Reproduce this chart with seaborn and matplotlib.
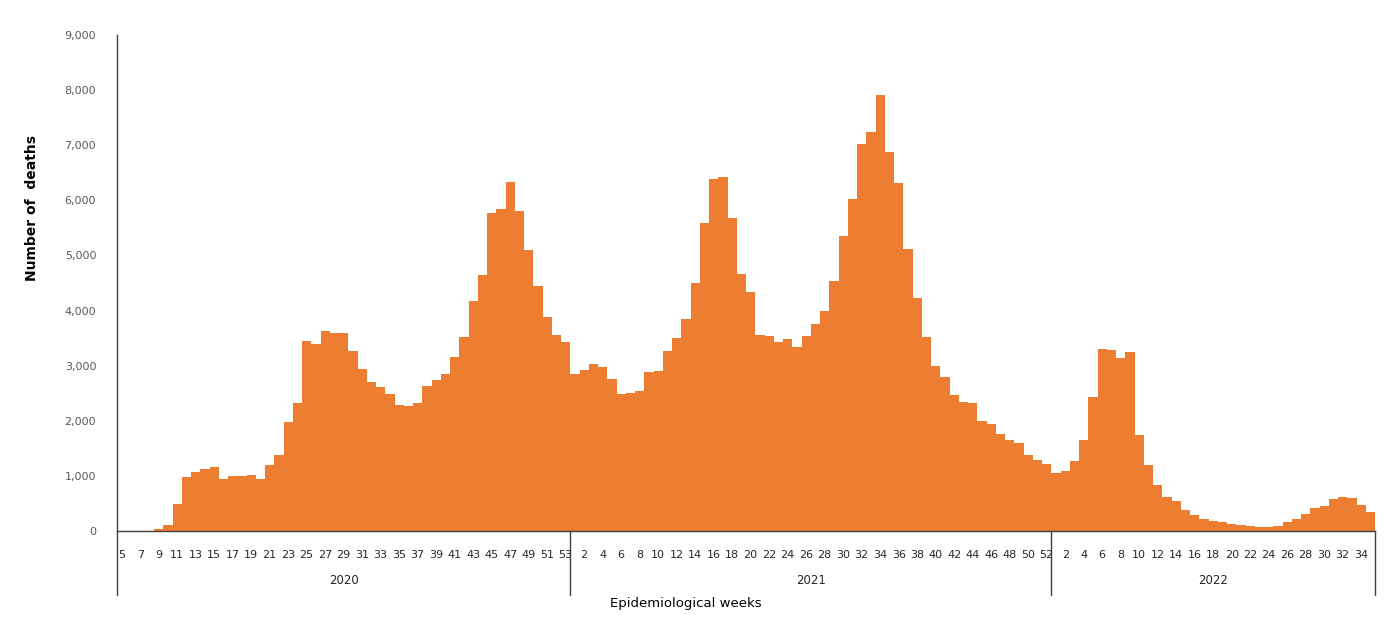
import numpy as np
import pandas as pd
import seaborn as sns
import matplotlib.pyplot as plt

# weekly deaths
weeks_2020 = list(range(5, 54))
deaths_2020 = [0, 0, 3, 8, 30, 100, 490, 980, 1070, 1125, 1167, 950, 998, 995, 1016, 938,
               1192, 1373, 1978, 2329, 3454, 3400, 3630, 3594, 3590, 3267, 2934, 2704, 2620,
               2486, 2281, 2263, 2317, 2632, 2735, 2855, 3158, 3521, 4180, 4652, 5771, 5838,
               6328, 5813, 5100, 4452, 3878, 3551, 3425]
weeks_2021 = list(range(1, 53))
deaths_2021 = [2855, 2916, 3037, 2982, 2752, 2486, 2498, 2535, 2886, 2898, 3267, 3497, 3842,
               4507, 5584, 6382, 6425, 5686, 4658, 4343, 3551, 3533, 3430, 3479, 3345, 3545,
               3751, 3993, 4537, 5360, 6025, 7024, 7241, 7913, 6872, 6322, 5124, 4223, 3527,
               3000, 2801, 2463, 2341, 2317, 1990, 1936, 1755, 1646, 1592, 1374, 1289, 1216]
weeks_2022 = list(range(1, 36))
deaths_2022 = [1059, 1095, 1270, 1652, 2432, 3297, 3279, 3140, 3243, 1737, 1198, 835, 623,
               550, 375, 285, 212, 176, 170, 133, 109, 91, 73, 80, 91, 157, 218, 314, 423,
               460, 575, 617, 599, 478, 350]
years = ['2020', '2021', '2022']

df = pd.DataFrame({
    'year': ['2020'] * len(weeks_2020) + ['2021'] * len(weeks_2021) + ['2022'] * len(weeks_2022),
    'week': weeks_2020 + weeks_2021 + weeks_2022,
    'deaths': deaths_2020 + deaths_2021 + deaths_2022,
})
df['pos'] = np.arange(len(df))

sns.set_style('white')
plt.rcParams['font.family'] = ['Liberation Sans Narrow', 'DejaVu Sans']

fig = plt.figure(figsize=(14, 6.29), dpi=100)
ax = fig.add_axes([0.0836, 0.1558, 0.8986, 0.7886])

sns.barplot(data=df, x='pos', y='deaths', color='#ED7D31', width=1.0,
            linewidth=0, saturation=1, ax=ax)

ax.set_ylim(0, 9000)
ax.set_xlim(-0.5, len(df) - 0.5)
ax.set_yticks(np.arange(0, 9001, 1000))
ax.set_yticklabels([f'{v:,}' for v in range(0, 9001, 1000)], fontsize=8, color='#595959')
ax.tick_params(axis='y', length=0, pad=15)

# week labels: odd weeks in 2020, even weeks in 2021/2022
show = ((df['year'] == '2020') & (df['week'] % 2 == 1)) | ((df['year'] != '2020') & (df['week'] % 2 == 0))
ax.set_xticks(df['pos'][show])
ax.set_xticklabels(df['week'][show], fontsize=8, color='#262626')
ax.tick_params(axis='x', length=0, pad=14)
ax.set_xlabel('')
ax.set_ylabel('')

for side in ['top', 'right']:
    ax.spines[side].set_visible(False)
for side in ['left', 'bottom']:
    ax.spines[side].set_color('#404040')
    ax.spines[side].set_linewidth(1)

# year group separators and labels
trans = ax.get_xaxis_transform()
starts = [df['pos'][df['year'] == y].min() - 0.5 for y in years]
ends = [df['pos'][df['year'] == y].max() + 0.5 for y in years]
for b in starts + [ends[-1]]:
    ax.plot([b, b], [0, -0.13], transform=trans, color='#404040', lw=1, clip_on=False)
for y, s, e in zip(years, starts, ends):
    ax.text((s + e) / 2, -0.1, y, transform=trans, ha='center', va='center',
            fontsize=8.5, color='#262626')

fig.text(0.49, 0.04, 'Epidemiological weeks', ha='center', va='center', fontsize=9.5, color='#000000')
fig.text(0.023, 0.67, 'Number of  deaths', rotation=90, ha='center', va='center',
         fontsize=10, fontweight='bold', color='#000000')

fig.savefig('out.png', dpi=100)
